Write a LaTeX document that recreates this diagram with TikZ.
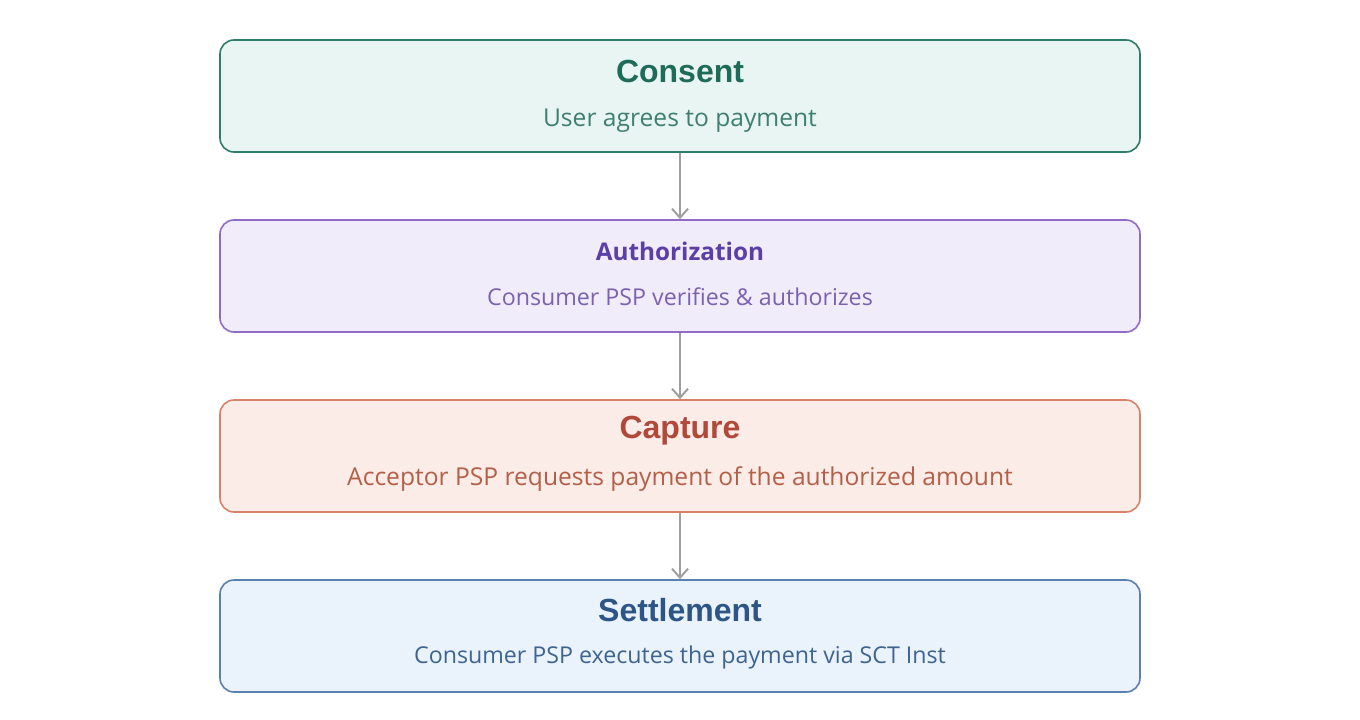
\documentclass[tikz,border=0pt]{standalone}
\usepackage{fontspec}
\setmainfont{Open Sans}
\newfontfamily\ttl{Liberation Sans}
\usetikzlibrary{arrows.meta}
\definecolor{gS}{HTML}{2E7D6B}\definecolor{gF}{HTML}{E8F5F3}\definecolor{gT}{HTML}{1F6B5A}\definecolor{gX}{HTML}{3F7F70}
\definecolor{pS}{HTML}{8E6CC4}\definecolor{pF}{HTML}{F1ECFA}\definecolor{pT}{HTML}{5B3FA6}\definecolor{pX}{HTML}{7A62AE}
\definecolor{rS}{HTML}{D9826A}\definecolor{rF}{HTML}{FBECE7}\definecolor{rT}{HTML}{B0493A}\definecolor{rX}{HTML}{B45F48}
\definecolor{bS}{HTML}{5B7FAE}\definecolor{bF}{HTML}{EAF2FB}\definecolor{bT}{HTML}{2D5585}\definecolor{bX}{HTML}{3D6590}
\tikzset{box/.style={draw=#1S,fill=#1F,line width=1.6pt,rounded corners=14pt,minimum width=920pt,minimum height=112pt,inner sep=0pt},
 ttlA/.style={font=\ttl\fontsize{32}{34}\selectfont\bfseries},
 ttlB/.style={font=\fontsize{24.3}{28}\selectfont\bfseries},
 sub/.style={font=\fontsize{24.6}{28}\selectfont},
 subs/.style={font=\fontsize{23.2}{27}\selectfont},
 arr/.style={draw=gray!75,line width=2pt,-{Straight Barb[length=9pt,width=16pt,line width=2pt]}}}
\begin{document}
\begin{tikzpicture}[x=1pt,y=-1pt]
\useasboundingbox (0,0) rectangle (1360,720);
\node[box=g] (c) at (680,96) {};
\node[box=p] (a) at (680,276) {};
\node[box=r] (p) at (680,456) {};
\node[box=b] (s) at (680,636) {};
\node[ttlA,text=gT] (ct) at (680,71) {Consent};
\node[sub,text=gX] (cs) at (680,121) {User agrees to payment};
\node[ttlB,text=pT] (at) at (680,251) {Authorization};
\node[subs,text=pX] (as) at (680,297) {Consumer PSP verifies \& authorizes};
\node[ttlA,text=rT] (pt) at (680,431) {Capture};
\node[sub,text=rX] (ps) at (680,479) {Acceptor PSP requests payment of the authorized amount};
\node[ttlA,text=bT] (st) at (680,610) {Settlement};
\node[subs,text=bX] (ss) at (680,657) {Consumer PSP executes the payment via SCT Inst};
\draw[arr] (c.south) -- (a.north);
\draw[arr] (a.south) -- (p.north);
\draw[arr] (p.south) -- (s.north);
\end{tikzpicture}
\end{document}
